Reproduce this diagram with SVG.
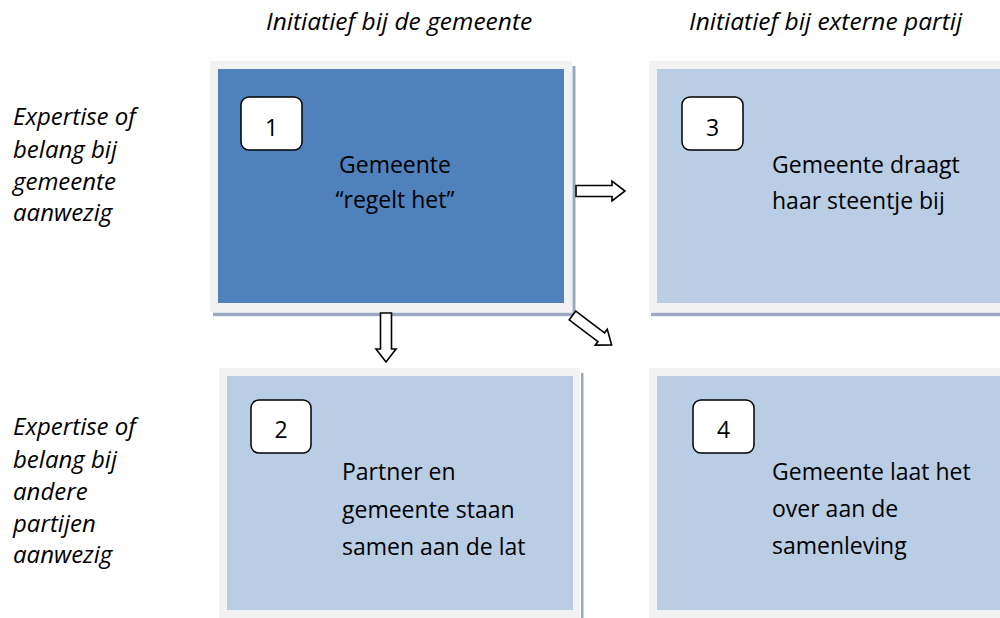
<svg xmlns="http://www.w3.org/2000/svg" width="1000" height="618" viewBox="0 0 1000 618">
<defs>
<style>
.t{font-family:"Open Sans","Noto Sans","Liberation Sans",sans-serif;font-size:23px;fill:#000}
.i{font-style:italic;font-size:24px}
.h{font-size:24.5px}
.frame{fill:#f2f2f2}
.sh{fill:#9aa9bf}
.dark{fill:#4f81bd}
.light{fill:#b9cde5}
.lab{fill:#fff;stroke:#000;stroke-width:1.5}
.arr{fill:#fff;stroke:#000;stroke-width:1.6;stroke-linejoin:miter}
</style>
<path id="ba" d="M0,-5.5 H36 V-10 L49,0 L36,10 V5.5 H0 Z"/>
</defs>
<rect width="1000" height="618" fill="#fff"/>
<g id="headers">
<text class="t i h" x="266" y="30">Initiatief bij de gemeente</text>
<text class="t i h" x="689" y="30">Initiatief bij externe partij</text>
</g>
<g id="rowlabels">
<text class="t i" x="13" y="125">Expertise of</text>
<text class="t i" x="13" y="158">belang bij</text>
<text class="t i" x="13" y="190">gemeente</text>
<text class="t i" x="13" y="221">aanwezig</text>
<text class="t i" x="13" y="435">Expertise of</text>
<text class="t i" x="13" y="468">belang bij</text>
<text class="t i" x="13" y="500">andere</text>
<text class="t i" x="13" y="532">partijen</text>
<text class="t i" x="13" y="563">aanwezig</text>
</g>
<g id="node1">
<rect class="sh" x="572.5" y="66" width="3" height="250"/>
<rect class="sh" x="213" y="312.7" width="362.5" height="3.5"/>
<rect class="frame" x="210" y="61" width="362" height="251"/>
<rect class="dark" x="218" y="69" width="346" height="234"/>
<rect class="lab" x="241" y="97" width="61" height="53" rx="8"/>
<text class="t" x="271.5" y="136" text-anchor="middle">1</text>
<text class="t" x="395" y="173" text-anchor="middle">Gemeente</text>
<text class="t" x="395" y="208" text-anchor="middle">“regelt het”</text>
</g>
<g id="node3">
<rect class="sh" x="651" y="312.7" width="349" height="3.5"/>
<rect class="frame" x="649" y="61" width="351" height="251"/>
<rect class="light" x="657" y="69" width="343" height="234"/>
<rect class="lab" x="682" y="97" width="61" height="53" rx="8"/>
<text class="t" x="712.5" y="136" text-anchor="middle">3</text>
<text class="t" x="772" y="173">Gemeente draagt</text>
<text class="t" x="772" y="209">haar steentje bij</text>
</g>
<g id="node2">
<rect class="sh" x="581" y="373" width="2.5" height="245"/>
<rect class="frame" x="219" y="368" width="361" height="250"/>
<rect class="light" x="227" y="376" width="346" height="234"/>
<rect class="lab" x="251" y="400" width="60" height="53" rx="8"/>
<text class="t" x="281" y="438" text-anchor="middle">2</text>
<text class="t" x="342" y="480">Partner en</text>
<text class="t" x="342" y="518">gemeente staan</text>
<text class="t" x="342" y="555">samen aan de lat</text>
</g>
<g id="node4">
<rect class="frame" x="649" y="368" width="351" height="250"/>
<rect class="light" x="657" y="376" width="343" height="234"/>
<rect class="lab" x="693" y="400" width="61" height="53" rx="8"/>
<text class="t" x="723.5" y="438" text-anchor="middle">4</text>
<text class="t" x="772" y="480">Gemeente laat het</text>
<text class="t" x="772" y="517">over aan de</text>
<text class="t" x="772" y="554">samenleving</text>
</g>
<g id="connectors">
<use href="#ba" class="arr" transform="translate(576,191)"/>
<use href="#ba" class="arr" transform="translate(386,313) rotate(90)"/>
<use href="#ba" class="arr" transform="translate(572.5,315.5) rotate(37)"/>
</g>
</svg>
